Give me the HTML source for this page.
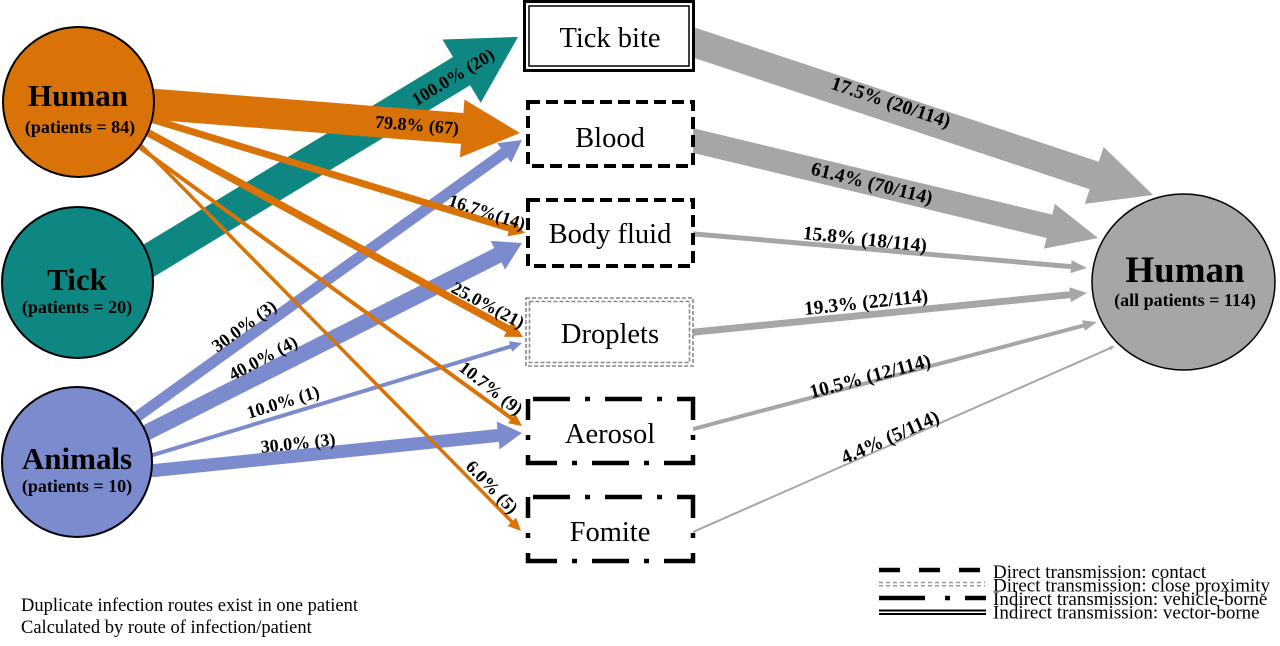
<!DOCTYPE html>
<html>
<head>
<meta charset="utf-8">
<style>
html,body{margin:0;padding:0;background:#fff;}
svg{display:block;}
text{font-family:"Liberation Serif","Times New Roman",serif;}
.lb{font-weight:bold;font-size:18px;fill:#000;}
.lg{font-weight:bold;font-size:19.5px;fill:#000;}
.box{font-size:28.5px;fill:#000;}
.leg{font-size:19px;fill:#000;}
.foot{font-size:18.5px;fill:#000;}
</style>
</head>
<body>
<svg width="1280" height="646" viewBox="0 0 1280 646" xmlns="http://www.w3.org/2000/svg">
<rect width="1280" height="646" fill="#fff"/>

<!-- teal arrow -->
<g transform="translate(120,278) rotate(-31.2)" fill="#0E8682">
<polygon points="0,-16.5 399.3,-16.5 399.3,-37 465.3,0 399.3,37 399.3,16.5 0,16.5"/>
</g>

<!-- blue arrows -->
<g fill="#7B8BCE">
<g transform="translate(120,429) rotate(-35.71)"><polygon points="0,-5.5 473.1,-5.5 473.1,-12 495.1,0 473.1,12 473.1,5.5 0,5.5"/></g>
<g transform="translate(120,446) rotate(-26.79)"><polygon points="0,-8 423.3,-8 423.3,-16 450.3,0 423.3,16 423.3,8 0,8"/></g>
<g transform="translate(120,465) rotate(-16.88)"><polygon points="0,-2 408.1,-2 408.1,-5.5 420.1,0 408.1,5.5 408.1,2 0,2"/></g>
<g transform="translate(120,474) rotate(-5.82)"><polygon points="0,-6.5 380.1,-6.5 380.1,-14 404.1,0 380.1,14 380.1,6.5 0,6.5"/></g>
</g>

<!-- orange arrows -->
<g fill="#D97308">
<g transform="translate(100,100) rotate(4.49)"><polygon points="0,-15.5 363.3,-15.5 363.3,-29 421.3,0 363.3,29 363.3,15.5 0,15.5"/></g>
<g transform="translate(100,103.6) rotate(16.93)"><polygon points="0,-3.5 428.3,-3.5 428.3,-8.5 444.3,0 428.3,8.5 428.3,3.5 0,3.5"/></g>
<g transform="translate(110,112) rotate(28.58)"><polygon points="0,-3.75 453.3,-3.75 453.3,-9 470.3,0 453.3,9 453.3,3.75 0,3.75"/></g>
<g transform="translate(110,126) rotate(36.06)"><polygon points="0,-2 496.7,-2 496.7,-6 509.7,0 496.7,6 496.7,2 0,2"/></g>
<g transform="translate(120,124) rotate(45.43)"><polygon points="0,-1.75 558.4,-1.75 558.4,-6 571.4,0 558.4,6 558.4,1.75 0,1.75"/></g>
</g>

<!-- gray arrows -->
<g fill="#A6A6A6">
<g transform="translate(690,41.3) rotate(18.36)"><polygon points="0,-14.5 425.9,-14.5 425.9,-30 487.9,0 425.9,30 425.9,14.5 0,14.5"/></g>
<g transform="translate(690,139.8) rotate(13.53)"><polygon points="0,-12 369.7,-12 369.7,-23 419.7,0 369.7,23 369.7,12 0,12"/></g>
<g transform="translate(690,233.6) rotate(4.95)"><polygon points="0,-2.5 382.5,-2.5 382.5,-6.5 398.5,0 382.5,6.5 382.5,2.5 0,2.5"/></g>
<g transform="translate(690,332.5) rotate(-5.68)"><polygon points="0,-3.5 382,-3.5 382,-7.5 399,0 382,7.5 382,3.5 0,3.5"/></g>
<g transform="translate(692,429.3) rotate(-14.84)"><polygon points="0,-2 405,-2 405,-5.5 419,0 405,5.5 405,2 0,2"/></g>
<g transform="translate(690,533.3) rotate(-23.78)"><polygon points="0,-1 458.4,-1 458.4,-2 464.4,0 458.4,2 458.4,1 0,1"/></g>
</g>

<!-- left circles -->
<ellipse cx="78.5" cy="102" rx="75.5" ry="75" fill="#D97308" stroke="#000" stroke-width="2"/>
<ellipse cx="77.5" cy="282.5" rx="75.5" ry="75.5" fill="#0E8682" stroke="#000" stroke-width="2"/>
<ellipse cx="77" cy="462" rx="75" ry="75" fill="#7B8BCE" stroke="#000" stroke-width="2"/>
<!-- right circle -->
<ellipse cx="1183.5" cy="282" rx="91.5" ry="88" fill="#A6A6A6" stroke="#000" stroke-width="1.5"/>

<!-- circle text -->
<g font-weight="bold" text-anchor="middle" fill="#000">
<text x="78" y="106" font-size="31">Human</text>
<text x="80" y="133" font-size="18">(patients = 84)</text>
<text x="77" y="290" font-size="31">Tick</text>
<text x="77" y="313" font-size="18">(patients = 20)</text>
<text x="77" y="469" font-size="31">Animals</text>
<text x="77" y="492" font-size="18">(patients = 10)</text>
<text x="1185" y="282" font-size="37">Human</text>
<text x="1185" y="306" font-size="18">(all patients = 114)</text>
</g>

<!-- boxes -->
<rect x="524.5" y="1.5" width="169" height="69" fill="#fff" stroke="#000" stroke-width="3"/>
<rect x="529" y="6" width="160" height="60" fill="none" stroke="#000" stroke-width="1.5"/>

<rect x="528" y="102" width="165" height="64" fill="#fff" stroke="#000" stroke-width="4" stroke-dasharray="12 6"/>
<rect x="528" y="200" width="165" height="66" fill="#fff" stroke="#000" stroke-width="4" stroke-dasharray="12 6"/>

<rect x="526" y="298" width="167" height="68" fill="#fff" stroke="#888" stroke-width="1.6" stroke-dasharray="4 2"/>
<rect x="529.5" y="301.5" width="160" height="61" fill="none" stroke="#888" stroke-width="1.6" stroke-dasharray="4 2"/>

<path d="M533,399 H693 V463 H528 V399" fill="#fff" stroke="#000" stroke-width="4.5" stroke-dasharray="37 15 5 15"/>
<path d="M533,497 H693 V561 H528 V497" fill="#fff" stroke="#000" stroke-width="4.5" stroke-dasharray="37 15 5 15"/>

<g text-anchor="middle">
<text x="610" y="47" class="box">Tick bite</text>
<text x="610" y="147" class="box">Blood</text>
<text x="610" y="243" class="box">Body fluid</text>
<text x="610" y="343" class="box">Droplets</text>
<text x="610" y="443" class="box">Aerosol</text>
<text x="610" y="541" class="box">Fomite</text>
</g>

<!-- left labels -->
<g text-anchor="middle">
<text class="lb" transform="translate(453,77) rotate(-31.2)" y="6">100.0% (20)</text>
<text class="lb" transform="translate(417,125) rotate(4.5)" y="6">79.8% (67)</text>
<text class="lb" transform="translate(487,212) rotate(18)" y="6">16.7%(14)</text>
<text class="lb" transform="translate(488,305) rotate(28)" y="6">25.0%(21)</text>
<text class="lb" transform="translate(491,388) rotate(38)" y="6">10.7% (9)</text>
<text class="lb" transform="translate(492,487) rotate(46)" y="6">6.0% (5)</text>
<text class="lb" transform="translate(244,326) rotate(-36)" y="6">30.0% (3)</text>
<text class="lb" transform="translate(263,358) rotate(-28)" y="6">40.0% (4)</text>
<text class="lb" transform="translate(283,402) rotate(-17)" y="6">10.0% (1)</text>
<text class="lb" transform="translate(298,443) rotate(-6)" y="6">30.0% (3)</text>
</g>

<!-- gray labels -->
<g text-anchor="middle">
<text class="lg" transform="translate(891,102) rotate(18.4)" y="6.5">17.5% (20/114)</text>
<text class="lg" transform="translate(872,183) rotate(14)" y="6.5">61.4% (70/114)</text>
<text class="lg" transform="translate(865,239) rotate(6)" y="6.5">15.8% (18/114)</text>
<text class="lg" transform="translate(866,302) rotate(-6)" y="6.5">19.3% (22/114)</text>
<text class="lg" transform="translate(870,376) rotate(-15)" y="6.5">10.5% (12/114)</text>
<text class="lg" transform="translate(890,437) rotate(-24)" y="6.5">4.4% (5/114)</text>
</g>

<!-- footnote -->
<text x="21" y="611" class="foot">Duplicate infection routes exist in one patient</text>
<text x="21" y="633" class="foot">Calculated by route of infection/patient</text>

<!-- legend -->
<line x1="879" y1="570" x2="985" y2="570" stroke="#000" stroke-width="4.5" stroke-dasharray="21 19"/>
<line x1="879" y1="582.5" x2="985" y2="582.5" stroke="#999" stroke-width="1.5" stroke-dasharray="4 3"/>
<line x1="879" y1="585.8" x2="985" y2="585.8" stroke="#999" stroke-width="1.5" stroke-dasharray="4 3"/>
<line x1="879" y1="598" x2="925" y2="598" stroke="#000" stroke-width="4.5"/>
<line x1="945" y1="598" x2="950" y2="598" stroke="#000" stroke-width="4.5"/>
<line x1="965" y1="598" x2="986" y2="598" stroke="#000" stroke-width="4.5"/>
<line x1="879" y1="610.5" x2="986" y2="610.5" stroke="#000" stroke-width="2"/>
<line x1="879" y1="614" x2="986" y2="614" stroke="#000" stroke-width="2"/>
<text x="993" y="578" class="leg">Direct transmission: contact</text>
<text x="993" y="591.5" class="leg">Direct transmission: close proximity</text>
<text x="993" y="605" class="leg">Indirect transmission: vehicle-borne</text>
<text x="993" y="618.5" class="leg">Indirect transmission: vector-borne</text>
</svg>
</body>
</html>
